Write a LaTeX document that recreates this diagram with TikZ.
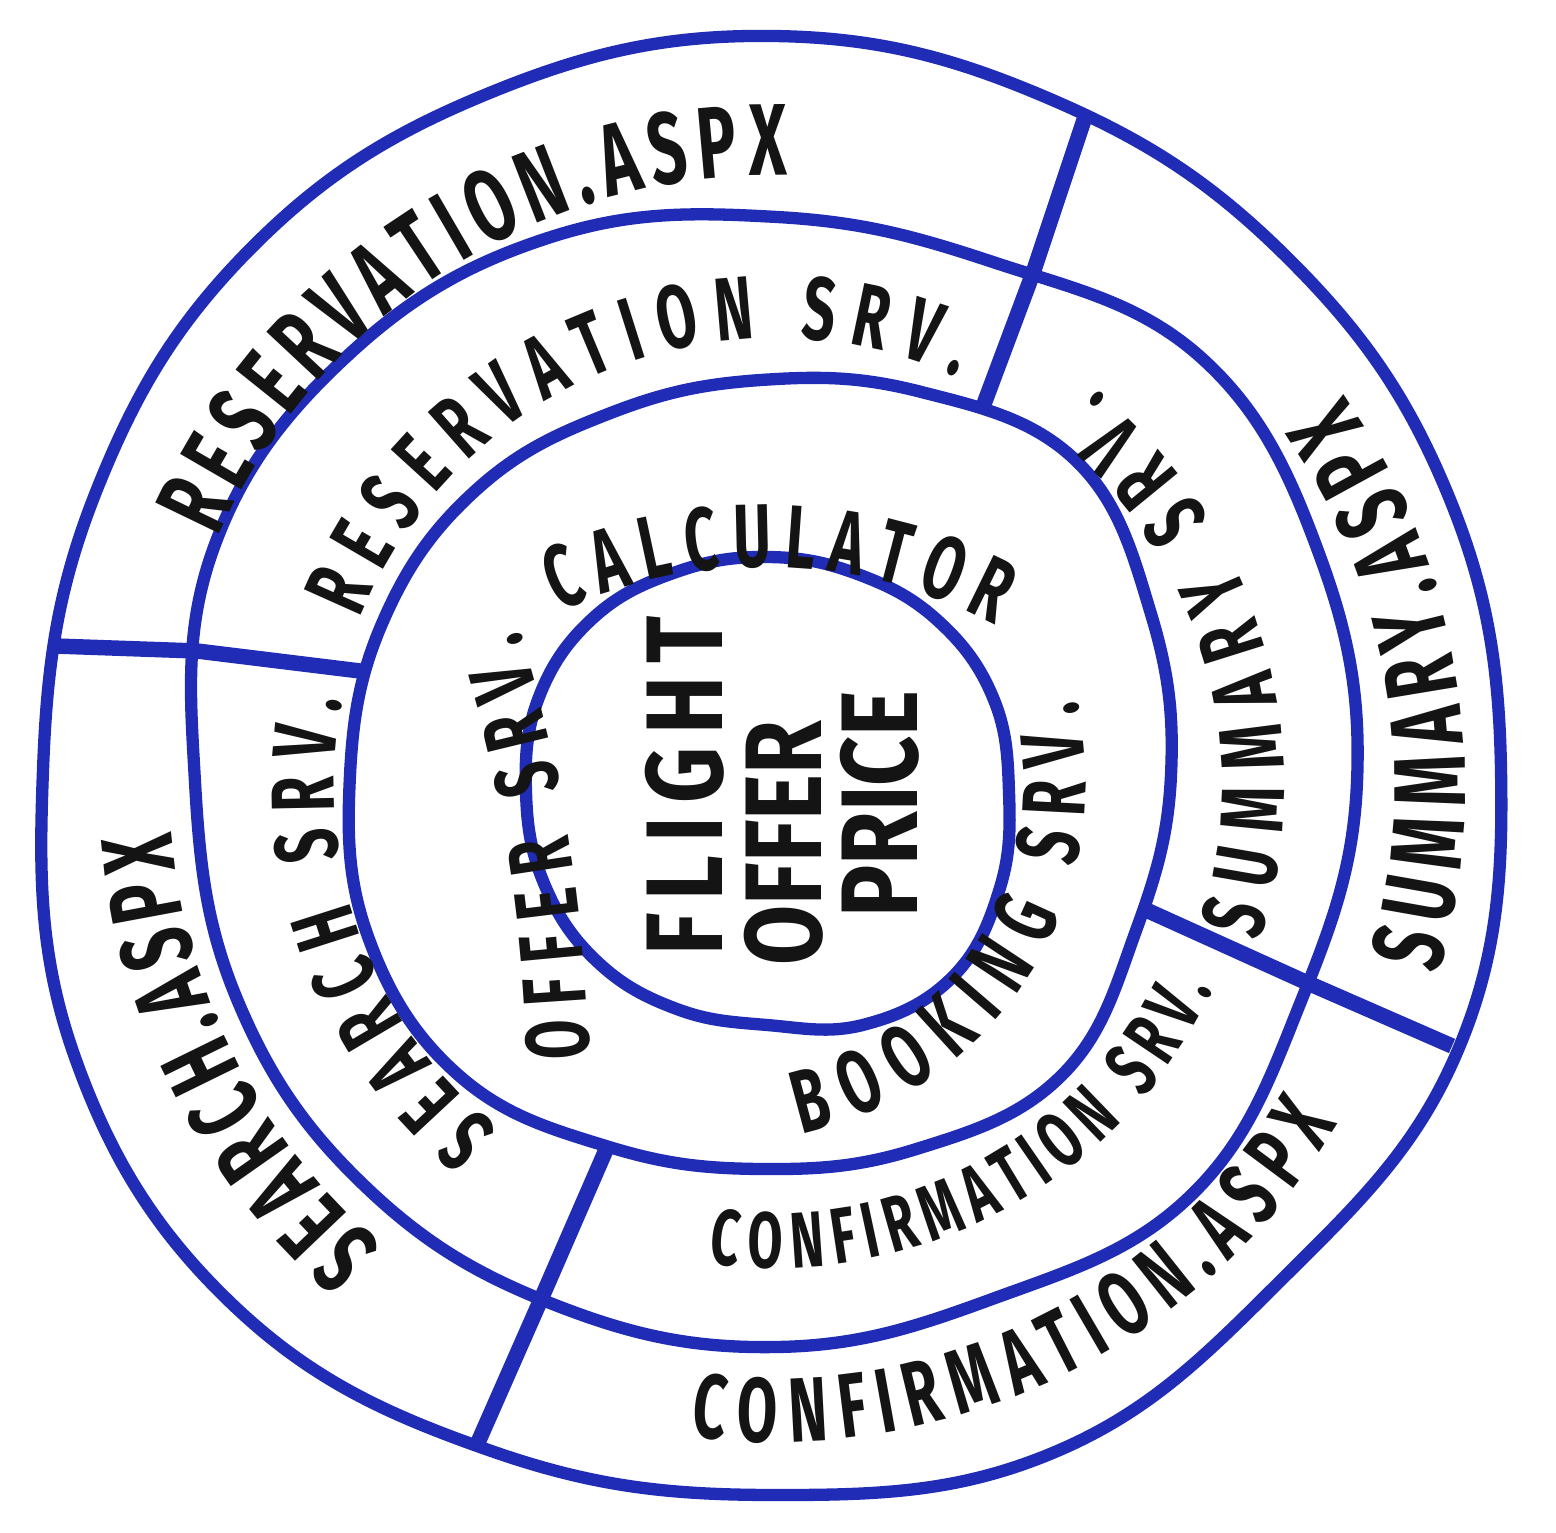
\documentclass[tikz,border=0pt]{standalone}
\usepackage{fontspec}
\newfontfamily\handfamily[FakeStretch=0.64]{Fira Sans}
\newfontfamily\corefamily[FakeStretch=0.8]{Fira Sans}
\usetikzlibrary{decorations.text}
\definecolor{onionblue}{RGB}{32,44,182}
\definecolor{inkblack}{RGB}{20,20,20}
\newcommand\outerfont{\handfamily\bfseries\fontsize{29}{30}\selectfont}
\newcommand\tightfont{\handfamily\bfseries\fontsize{26}{28}\selectfont}
\newcommand\middlefont{\handfamily\bfseries\fontsize{25.5}{27}\selectfont}
\newcommand\smallfont{\handfamily\bfseries\fontsize{22.5}{24}\selectfont}
\newcommand\corefont{\corefamily\bfseries\fontsize{31}{32}\selectfont}
\newcommand\flightfont{\corefont\addfontfeature{LetterSpace=12.0}}
\tikzset{
  ring/.style={draw=onionblue,line width=3.5pt,line join=round},
  cut/.style={draw=onionblue,line width=4.4pt,line join=round},
  outerlabel/.style={decorate,decoration={text along path,text align=fit to path,
      raise=-3.5mm,text color=inkblack,text={|\outerfont|#1}}},
  tightlabel/.style={decorate,decoration={text along path,text align=fit to path,
      raise=-3.2mm,text color=inkblack,text={|\tightfont|#1}}},
  middlelabel/.style={decorate,decoration={text along path,text align=fit to path,
      raise=-3.1mm,text color=inkblack,text={|\middlefont|#1}}},
  smalllabel/.style={decorate,decoration={text along path,text align=fit to path,
      raise=-2.8mm,text color=inkblack,text={|\smallfont|#1}}},
  core/.style={font=\corefont,text=inkblack,inner sep=0pt,rotate=90},
}
\begin{document}
\begin{tikzpicture}
  \fill[white] (0,0) rectangle (15.56,15.32);
  \useasboundingbox (0,0) rectangle (15.56,15.32);

  % the four layers
  \draw[ring,shift={(7.73,7.62)}] plot[smooth cycle,tension=0.68] coordinates {
    (0:7.28) (22.5:7.29) (45:7.26) (67.5:7.26) (90:7.34) (112.5:7.34) (135:7.38) (157.5:7.32)
    (180:7.30) (202.5:7.55) (225:7.60) (247.5:7.37) (270:7.25) (292.5:7.38) (315:7.20) (337.5:7.40)};
  \draw[ring,shift={(7.77,7.50)}] plot[smooth cycle,tension=0.68] coordinates {
    (0:5.80) (22.5:5.88) (45:6.00) (67.5:5.63) (90:5.65) (112.5:5.90) (135:6.05) (157.5:6.10)
    (180:5.82) (202.5:5.82) (225:5.77) (247.5:5.68) (270:5.65) (292.5:5.60) (315:5.85) (337.5:5.68)};
  \draw[ring,shift={(7.61,7.57)}] plot[smooth cycle,tension=0.68] coordinates {
    (0:4.10) (22.5:4.22) (45:4.45) (67.5:4.15) (90:3.95) (112.5:3.92) (135:4.03) (157.5:4.08)
    (180:4.11) (202.5:4.25) (225:4.26) (247.5:4.02) (270:3.94) (292.5:4.05) (315:4.25) (337.5:4.06)};
  \draw[ring,shift={(7.67,7.40)}] plot[smooth cycle,tension=0.68] coordinates {
    (0:2.42) (22.5:2.45) (45:2.42) (67.5:2.36) (90:2.35) (112.5:2.38) (135:2.46) (157.5:2.47)
    (180:2.41) (202.5:2.41) (225:2.40) (247.5:2.35) (270:2.33) (292.5:2.52) (315:2.62) (337.5:2.52)};

  % dividers of the two outer layers
  \coordinate (ne1) at (10.85,14.15);
  \coordinate (ne2) at (10.33,12.59);
  \coordinate (ne3) at (9.84,11.28);
  \coordinate (w1) at (0.55,8.86);
  \coordinate (w2) at (1.97,8.81);
  \coordinate (w3) at (3.60,8.61);
  \coordinate (sw1) at (4.76,0.85);
  \coordinate (sw2) at (5.42,2.35);
  \coordinate (sw3) at (6.09,3.89);
  \coordinate (se1) at (14.52,4.86);
  \coordinate (se2) at (13.01,5.52);
  \coordinate (se3) at (11.44,6.23);
  \draw[cut] (ne1) -- (ne2) -- (ne3);
  \draw[cut] (w1) -- (w2) -- (w3);
  \draw[cut] (sw1) -- (sw2) -- (sw3);
  \draw[cut] (se1) -- (se2) -- (se3);

  % labels along the rings
  \begin{scope}[shift={(7.75,7.47)}]
    \path[outerlabel=RESERVATION.ASPX] (156:6.45) arc[start angle=156,end angle=89,radius=6.45];
    \path[outerlabel=SUMMARY.ASPX] (-16:6.55) arc[start angle=-16,end angle=34.5,radius=6.55];
    \path[tightlabel=CONFIRMATION.ASPX] (-97.5:6.25) arc[start angle=-97.5,end angle=-31,radius=6.25];
    \path[outerlabel=SEARCH.ASPX] (229.5:6.40) arc[start angle=229.5,end angle=184.5,radius=6.40];
    \path[middlelabel=RESERVATION SRV.] (158:4.78) arc[start angle=158,end angle=66,radius=4.78];
    \path[middlelabel=SEARCH SRV.] (231:4.72) arc[start angle=231,end angle=169,radius=4.72];
    \path[middlelabel=SUMMARY SRV.] (-18:4.78) arc[start angle=-18,end angle=51,radius=4.78];
    \path[smalllabel=CONFIRMATION SRV.] (-98:4.55) arc[start angle=-98,end angle=-25,radius=4.55];
  \end{scope}
  \path[shift={(7.64,4.74)},middlelabel=CALCULATOR] (114.5:5.22) arc[start angle=114.5,end angle=62,radius=5.22];
  \path[shift={(7.25,7.51)},middlelabel=BOOKING SRV.] (-78:3.30) arc[start angle=-78,end angle=13,radius=3.30];
  \path[middlelabel=OFFER SRV.] (5.58,4.72) .. controls (5.55,6.02) and (5.35,7.52) .. (4.90,8.92);

  % core
  \node[core,font=\flightfont] (flight) at (6.85,7.46) {FLIGHT};
  \node[core] (offer) at (7.84,6.89) {OFFER};
  \node[core] (price) at (8.80,7.28) {PRICE};
\end{tikzpicture}
\end{document}
